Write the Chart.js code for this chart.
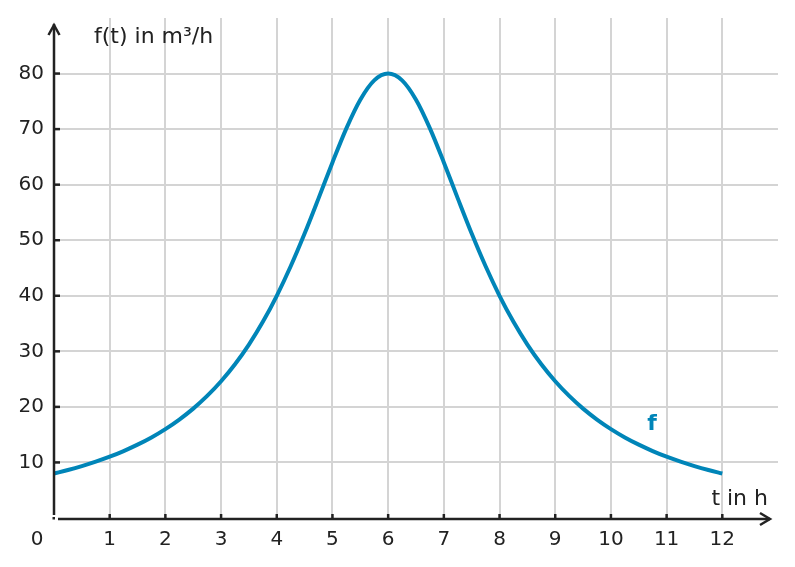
<!DOCTYPE html>
<html>
<head>
<meta charset="utf-8">
<script src="https://cdn.jsdelivr.net/npm/chart.js"></script>
<style>
  html, body { margin: 0; padding: 0; background: #fff; }
  #wrap { width: 795px; height: 567px; }
</style>
</head>
<body>
<div id="wrap"><canvas id="chart" width="795" height="567"></canvas></div>
<script>
// values
const tValues = [0, 0.25, 0.5, 0.75, 1, 1.25, 1.5, 1.75, 2, 2.25, 2.5, 2.75, 3, 3.25, 3.5, 3.75,
  4, 4.25, 4.5, 4.75, 5, 5.25, 5.5, 5.75, 6, 6.25, 6.5, 6.75, 7, 7.25, 7.5, 7.75,
  8, 8.25, 8.5, 8.75, 9, 9.25, 9.5, 9.75, 10, 10.25, 10.5, 10.75, 11, 11.25, 11.5, 11.75, 12];
const fValues = [8.0, 8.63, 9.34, 10.14, 11.03, 12.05, 13.2, 14.5, 16.0, 17.72, 19.69, 21.97, 24.62, 27.68, 31.22, 35.31,
  40.0, 45.31, 51.2, 57.53, 64.0, 70.14, 75.29, 78.77, 80.0, 78.77, 75.29, 70.14, 64.0, 57.53, 51.2, 45.31,
  40.0, 35.31, 31.22, 27.68, 24.62, 21.97, 19.69, 17.72, 16.0, 14.5, 13.2, 12.05, 11.03, 10.14, 9.34, 8.63, 8.0];
const xTicks = [1, 2, 3, 4, 5, 6, 7, 8, 9, 10, 11, 12];
const yTicks = [10, 20, 30, 40, 50, 60, 70, 80];

const FONT = '"DejaVu Sans", sans-serif';
const INK = '#222222';
const BLUE = '#0085b8';
const GRID = '#d4d4d4';

const axesPlugin = {
  id: 'axes',
  afterDraw(chart) {
    const c = chart.ctx;
    const x = chart.scales.x, y = chart.scales.y;
    const x0 = x.getPixelForValue(0), y0 = y.getPixelForValue(0);
    const right = chart.chartArea.right;
    c.save();
    c.strokeStyle = INK;
    c.fillStyle = INK;
    c.lineWidth = 2.5;
    c.lineCap = 'butt';
    // y axis
    c.beginPath();
    c.moveTo(x0, y0 - 3);
    c.lineTo(x0, 24);
    c.stroke();
    c.beginPath();
    c.moveTo(x0 - 5.5, 35);
    c.lineTo(x0, 25);
    c.lineTo(x0 + 5.5, 35);
    c.stroke();
    // x axis
    c.beginPath();
    c.moveTo(x0 + 4, y0 + 1);
    c.lineTo(right - 8, y0 + 1);
    c.stroke();
    c.beginPath();
    c.moveTo(right - 18, y0 - 5);
    c.lineTo(right - 8, y0 + 1);
    c.lineTo(right - 18, y0 + 7);
    c.stroke();
    c.fillRect(x0 - 1.5, y0 - 1, 2.5, 2.5);
    // ticks
    yTicks.forEach(v => {
      const py = y.getPixelForValue(v);
      c.beginPath();
      c.moveTo(x0, py);
      c.lineTo(x0 + 6, py);
      c.stroke();
    });
    xTicks.forEach(v => {
      const px = x.getPixelForValue(v);
      c.beginPath();
      c.moveTo(px, y0 + 1);
      c.lineTo(px, y0 - 4);
      c.stroke();
    });
    // texts
    c.font = '22px ' + FONT;
    c.textBaseline = 'alphabetic';
    c.textAlign = 'left';
    c.fillText('f(t) in m³/h', 94, 43);
    c.textAlign = 'right';
    c.fillText('t in h', 768, 505);
    c.font = '20px ' + FONT;
    c.textAlign = 'center';
    c.fillText('0', 37, 545);
    c.fillStyle = BLUE;
    c.font = 'bold 22px ' + FONT;
    c.fillText('f', 652, 430);
    c.restore();
  }
};

new Chart(document.getElementById('chart'), {
  type: 'line',
  data: {
    datasets: [{
      data: tValues.map((t, i) => ({ x: t, y: fValues[i] })),
      borderColor: BLUE,
      borderWidth: 4,
      pointRadius: 0,
      tension: 0.4,
      cubicInterpolationMode: 'monotone',
      fill: false
    }]
  },
  options: {
    responsive: false,
    animation: false,
    layout: { padding: { top: 18, right: 17, left: 0, bottom: 0 } },
    plugins: { legend: { display: false }, tooltip: { enabled: false } },
    scales: {
      x: {
        type: 'linear', min: 0, max: 13,
        afterFit(s) { s.height = 49; s.paddingLeft = 0; s.paddingRight = 0; },
        border: { display: false },
        grid: {
          drawTicks: false, lineWidth: 2,
          color: ctx => (ctx.tick && ctx.tick.value > 0 && ctx.tick.value < 13) ? GRID : 'rgba(0,0,0,0)'
        },
        ticks: {
          stepSize: 1, padding: 10, color: INK,
          font: { family: FONT, size: 20 },
          callback: v => xTicks.includes(v) ? String(v) : ''
        }
      },
      y: {
        type: 'linear', min: 0, max: 90,
        afterFit(s) { s.width = 54; s.paddingTop = 0; s.paddingBottom = 0; },
        border: { display: false },
        grid: {
          drawTicks: false, lineWidth: 2,
          color: ctx => (ctx.tick && ctx.tick.value > 0 && ctx.tick.value < 90) ? GRID : 'rgba(0,0,0,0)'
        },
        ticks: {
          stepSize: 10, padding: 10, color: INK,
          font: { family: FONT, size: 20 },
          callback: v => yTicks.includes(v) ? String(v) : ''
        }
      }
    }
  },
  plugins: [axesPlugin]
});
</script>
</body>
</html>
